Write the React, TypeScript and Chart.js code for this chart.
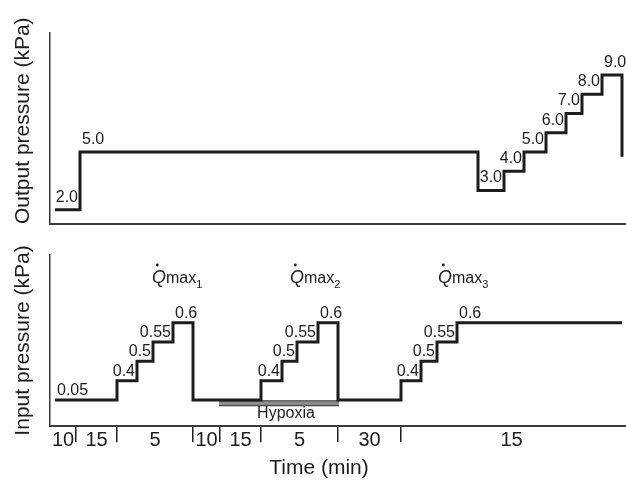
import React, { useEffect, useRef } from 'react';
import { Chart, registerables } from 'chart.js';

Chart.register(...registerables);

const FONT = '"Liberation Sans", Arial, Helvetica, sans-serif';
const INK = '#1c1c1c';
const AXIS = '#3a3a3a';

// Schematic time positions (arbitrary units along the time axis, 0..576)
const timeMin = 0;
const timeMax = 576;

// Output pressure (kPa) step changes
const outputTimes = [5, 30, 428, 454, 474, 496, 516, 532, 552, 572];
const outputValues = [2.0, 5.0, 3.0, 4.0, 5.0, 6.0, 7.0, 8.0, 9.0, 4.75];
const outputLabels = ['2.0', '5.0', '3.0', '4.0', '5.0', '6.0', '7.0', '8.0', '9.0', ''];

// Input pressure (kPa) step changes (schematic, drawn as equally spaced levels)
const inputLevels = [0.05, 0.4, 0.5, 0.55, 0.6];
const inputTimes = [5, 67, 87, 103, 123, 143, 211, 232, 247, 268, 288, 351, 371, 387, 407, 572];
const inputValues = [0.05, 0.4, 0.5, 0.55, 0.6, 0.05, 0.4, 0.5, 0.55, 0.6, 0.05, 0.4, 0.5, 0.55, 0.6, 0.6];
const inputLabels = ['0.05', '0.4', '0.5', '0.55', '0.6', '', '0.4', '0.5', '0.55', '0.6', '', '0.4', '0.5', '0.55', '0.6', ''];

// Time segments (min) shown along the bottom axis
const segmentBounds = [0, 26, 67, 143, 170, 211, 288, 351, 572];
const segmentMinutes = ['10', '15', '5', '10', '15', '5', '30', '15'];

// Hypoxia period
const hypoxiaStart = 169;
const hypoxiaEnd = 289;
const hypoxiaLevel = -0.17;

// Qmax annotations
const qmaxTimes = [102, 240, 388];
const qmaxSubs = ['1', '2', '3'];
const qmaxLevel = 6.06;

const levelOf = (v: number) => inputLevels.indexOf(v);

function drawStepLabels(chart: any, times: number[], values: number[], labels: string[], toY: (v: number) => number, lift: number) {
  const { ctx, scales } = chart;
  const xs = scales.x;
  const ys = scales.y;
  ctx.save();
  ctx.font = `16px ${FONT}`;
  ctx.fillStyle = INK;
  ctx.textBaseline = 'alphabetic';
  for (let i = 0; i < labels.length; i++) {
    if (!labels[i]) continue;
    const x0 = xs.getPixelForValue(times[i]);
    const x1 = xs.getPixelForValue(times[i + 1]);
    const py = ys.getPixelForValue(toY(values[i]));
    const w = x1 - x0;
    if (w <= 50 && values[i + 1] > values[i]) {
      ctx.textAlign = 'right';
      ctx.fillText(labels[i], x1 - 2, py - lift);
    } else {
      ctx.textAlign = 'left';
      ctx.fillText(labels[i], x0 + 2, py - lift);
    }
  }
  ctx.restore();
}

const topLabelsPlugin = {
  id: 'topLabels',
  afterDatasetsDraw(chart: any) {
    drawStepLabels(chart, outputTimes, outputValues, outputLabels, (v) => v, 8);
  },
};

const bottomLabelsPlugin = {
  id: 'bottomLabels',
  afterDatasetsDraw(chart: any) {
    const { ctx, scales } = chart;
    const xs = scales.x;
    const ys = scales.y;
    drawStepLabels(chart, inputTimes, inputValues, inputLabels, levelOf, 5);

    ctx.save();
    ctx.fillStyle = INK;
    ctx.textBaseline = 'alphabetic';
    ctx.textAlign = 'left';
    // Q-dot max labels
    const base = ys.getPixelForValue(qmaxLevel);
    qmaxTimes.forEach((t, i) => {
      const px = xs.getPixelForValue(t);
      ctx.font = `italic 18px ${FONT}`;
      ctx.fillText('Q', px, base);
      const qw = ctx.measureText('Q').width;
      ctx.beginPath();
      ctx.arc(px + qw * 0.38, base - 18, 1.4, 0, Math.PI * 2);
      ctx.fill();
      ctx.font = `16px ${FONT}`;
      ctx.fillText('max', px + qw, base);
      const mw = ctx.measureText('max').width;
      ctx.font = `11px ${FONT}`;
      ctx.fillText(qmaxSubs[i], px + qw + mw, base + 5);
    });

    // Hypoxia label
    ctx.font = `16px ${FONT}`;
    ctx.textAlign = 'center';
    ctx.fillText('Hypoxia', xs.getPixelForValue(236), ys.getPixelForValue(-0.93));

    // Time axis title
    ctx.font = `21px ${FONT}`;
    ctx.fillText('Time (min)', xs.getPixelForValue(269), chart.height - 6);
    ctx.restore();
  },
};

const internalBounds = segmentBounds.slice(1, -1);
const segmentMids = segmentMinutes.map((_, i) => (segmentBounds[i] + segmentBounds[i + 1]) / 2);
const tickValues = [...internalBounds, ...segmentMids].sort((a, b) => a - b);
const tickText = (v: number) => {
  const mi = segmentMids.indexOf(v);
  return mi >= 0 ? segmentMinutes[mi] : '';
};

export default function App() {
  const topRef = useRef<HTMLCanvasElement>(null);
  const botRef = useRef<HTMLCanvasElement>(null);

  useEffect(() => {
    Chart.defaults.font.family = FONT;
    const topChart = new Chart(topRef.current!, {
      type: 'line',
      data: {
        datasets: [
          {
            data: outputTimes.map((t, i) => ({ x: t, y: outputValues[i] })),
            stepped: 'before',
            borderColor: INK,
            borderWidth: 3,
            pointRadius: 0,
            fill: false,
          },
        ],
      },
      options: {
        animation: false,
        responsive: false,
        maintainAspectRatio: false,
        layout: { padding: { top: 33, right: 0, left: 0, bottom: 0 } },
        plugins: { legend: { display: false }, tooltip: { enabled: false } },
        scales: {
          x: {
            type: 'linear',
            min: timeMin,
            max: timeMax,
            ticks: { display: false },
            grid: { display: false },
            border: { display: true, color: AXIS, width: 2 },
            afterFit: (s: any) => { s.height = 16; },
          },
          y: {
            type: 'linear',
            min: 1.26,
            max: 11.18,
            ticks: { display: false },
            grid: { display: false },
            border: { display: true, color: AXIS, width: 1.5 },
            title: {
              display: true,
              text: 'Output pressure (kPa)',
              align: 'start',
              color: INK,
              font: { family: FONT, size: 21 },
              padding: { top: 11, bottom: 0 },
            },
            afterFit: (s: any) => { s.width = 50; },
          },
        },
      },
      plugins: [topLabelsPlugin],
    } as any);

    const botChart = new Chart(botRef.current!, {
      type: 'line',
      data: {
        datasets: [
          {
            data: inputTimes.map((t, i) => ({ x: t, y: levelOf(inputValues[i]) })),
            stepped: 'before',
            borderColor: INK,
            borderWidth: 3,
            pointRadius: 0,
            fill: false,
            order: 0,
          },
          {
            data: [{ x: hypoxiaStart, y: hypoxiaLevel }, { x: hypoxiaEnd, y: hypoxiaLevel }],
            borderColor: '#8c8c8c',
            borderWidth: 4,
            borderCapStyle: 'butt',
            pointRadius: 0,
            fill: false,
            order: 1,
          },
          {
            data: [{ x: hypoxiaStart, y: hypoxiaLevel }, { x: hypoxiaEnd, y: hypoxiaLevel }],
            borderColor: '#333333',
            borderWidth: 6,
            borderCapStyle: 'butt',
            pointRadius: 0,
            fill: false,
            order: 2,
          },
        ],
      },
      options: {
        animation: false,
        responsive: false,
        maintainAspectRatio: false,
        layout: { padding: { top: 15, right: 0, left: 0, bottom: 0 } },
        plugins: { legend: { display: false }, tooltip: { enabled: false } },
        scales: {
          x: {
            type: 'linear',
            min: timeMin,
            max: timeMax,
            afterBuildTicks: (s: any) => { s.ticks = tickValues.map((v) => ({ value: v })); },
            ticks: {
              autoSkip: false,
              maxRotation: 0,
              minRotation: 0,
              padding: -14,
              color: INK,
              font: { family: FONT, size: 20 },
              callback: (v: any) => tickText(Number(v)),
            },
            grid: {
              display: true,
              drawOnChartArea: false,
              drawTicks: true,
              tickLength: 16,
              lineWidth: 1.5,
              color: (c: any) => (c.tick && internalBounds.includes(c.tick.value) ? INK : 'rgba(0,0,0,0)'),
            },
            border: { display: true, color: AXIS, width: 2 },
            afterFit: (s: any) => { s.height = 54; },
          },
          y: {
            type: 'linear',
            min: -1.35,
            max: 7.51,
            ticks: { display: false },
            grid: { display: false },
            border: { display: true, color: AXIS, width: 1.5 },
            title: {
              display: true,
              text: 'Input pressure (kPa)',
              align: 'center',
              color: INK,
              font: { family: FONT, size: 21 },
              padding: { top: 11, bottom: 0 },
            },
            afterFit: (s: any) => { s.width = 50; },
          },
        },
      },
      plugins: [bottomLabelsPlugin],
    } as any);

    return () => {
      topChart.destroy();
      botChart.destroy();
    };
  }, []);

  return (
    <div style={{ position: 'fixed', left: 0, top: 0, width: 626, height: 480, background: '#fff' }}>
      <canvas ref={topRef} width={626} height={240} style={{ position: 'absolute', left: 0, top: 0, width: 626, height: 240 }} />
      <canvas ref={botRef} width={626} height={240} style={{ position: 'absolute', left: 0, top: 240, width: 626, height: 240 }} />
    </div>
  );
}
